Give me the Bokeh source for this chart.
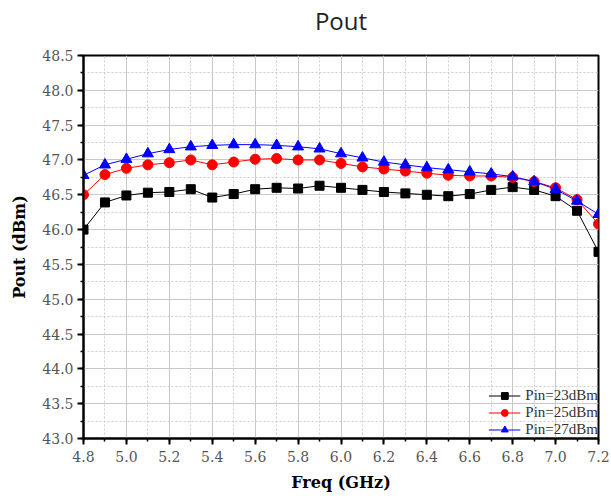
from bokeh.plotting import figure
from bokeh.models import (Range1d, SingleIntervalTicker, FixedTicker, PrintfTickFormatter,
                          Legend, LegendItem, LinearAxis)
from bokeh.embed import file_html
from bokeh.resources import INLINE

freq = [4.8, 4.9, 5.0, 5.1, 5.2, 5.3, 5.4, 5.5, 5.6, 5.7, 5.8, 5.9, 6.0,
        6.1, 6.2, 6.3, 6.4, 6.5, 6.6, 6.7, 6.8, 6.9, 7.0, 7.1, 7.2]
pin23 = [46.00, 46.39, 46.49, 46.53, 46.54, 46.58, 46.46, 46.51, 46.58, 46.60, 46.59, 46.63, 46.60,
         46.57, 46.54, 46.52, 46.50, 46.48, 46.51, 46.57, 46.61, 46.57, 46.48, 46.27, 45.68]
pin25 = [46.50, 46.79, 46.88, 46.93, 46.96, 47.00, 46.93, 46.97, 47.01, 47.02, 47.00, 47.00, 46.95,
         46.90, 46.87, 46.84, 46.81, 46.78, 46.77, 46.77, 46.75, 46.69, 46.60, 46.43, 46.08]
pin27 = [46.78, 46.93, 47.01, 47.09, 47.15, 47.19, 47.21, 47.22, 47.22, 47.21, 47.19, 47.16, 47.09,
         47.03, 46.97, 46.93, 46.89, 46.86, 46.83, 46.80, 46.76, 46.69, 46.58, 46.41, 46.22]
labels = ["Pin=23dBm", "Pin=25dBm", "Pin=27dBm"]
title_text = "Pout"

p = figure(width=611, height=500, output_backend="svg", toolbar_location=None,
           x_range=Range1d(4.8, 7.2), y_range=Range1d(43.0, 48.5),
           min_border_left=83, min_border_right=13, min_border_top=55, min_border_bottom=62,
           background_fill_color="white", border_fill_color="white",
           outline_line_color="black", outline_line_width=2)

bottom_ax = p.below[0]
left_ax = p.left[0]

# title drawn as the label of an empty top axis; bounds shift it to the page centre
top_ax = LinearAxis(ticker=FixedTicker(ticks=[]), axis_label=title_text, bounds=(4.8, 6.87),
                    axis_label_text_font="Open Sans", axis_label_text_font_style="normal",
                    axis_label_text_font_size="24px", axis_label_text_color="#222222",
                    axis_label_standoff=19, axis_line_color=None,
                    major_tick_line_color=None, minor_tick_line_color=None)
p.add_layout(top_ax, "above")

tick_font = "DejaVu Serif"
for ax, lab in ((bottom_ax, "Freq (GHz)"), (left_ax, "Pout (dBm)")):
    ax.axis_label = lab
    ax.axis_label_text_font = "DejaVu Serif"
    ax.axis_label_text_font_style = "bold"
    ax.axis_label_text_font_size = "16px"
    ax.axis_label_text_color = "black"
    ax.major_label_text_font = tick_font
    ax.major_label_text_font_size = "14px"
    ax.major_label_text_color = "#555555"
    ax.axis_line_width = 2
    ax.axis_line_color = "black"
    ax.major_tick_out = 6
    ax.major_tick_in = 0
    ax.minor_tick_out = 3
    ax.minor_tick_in = 0
    ax.major_tick_line_width = 2
    ax.minor_tick_line_width = 1.5
    ax.formatter = PrintfTickFormatter(format="%.1f")

bottom_ax.ticker = SingleIntervalTicker(interval=0.2, num_minor_ticks=2)
left_ax.ticker = SingleIntervalTicker(interval=0.5, num_minor_ticks=2)
bottom_ax.axis_label_standoff = 8
left_ax.axis_label_standoff = 10
bottom_ax.major_label_standoff = 6
left_ax.major_label_standoff = 4

p.xgrid.grid_line_color = "#c8c8c8"
p.ygrid.grid_line_color = "#c8c8c8"
p.xgrid.minor_grid_line_color = "#cccccc"
p.ygrid.minor_grid_line_color = "#cccccc"
p.xgrid.minor_grid_line_dash = "2 2"
p.ygrid.minor_grid_line_dash = "2 2"

series = [(pin23, "black", "square", 9), (pin25, "red", "circle", 10), (pin27, "blue", "triangle", 11)]
items = []
for (ys, col, mk, sz), lab in zip(series, labels):
    l = p.line(freq, ys, line_color=col, line_width=1)
    s = p.scatter(freq, ys, marker=mk, size=sz, fill_color=col, line_color=col)
    items.append(LegendItem(label=lab, renderers=[l, s]))

leg = Legend(items=items, location="bottom_right", border_line_color=None,
             background_fill_alpha=0, margin=0, padding=0, spacing=0,
             label_height=17, glyph_height=17, glyph_width=32, label_standoff=5,
             label_text_font="Liberation Serif", label_text_font_size="15px",
             label_text_color="#333333")
p.add_layout(leg)

open("out.html", "w").write(file_html(p, INLINE))
